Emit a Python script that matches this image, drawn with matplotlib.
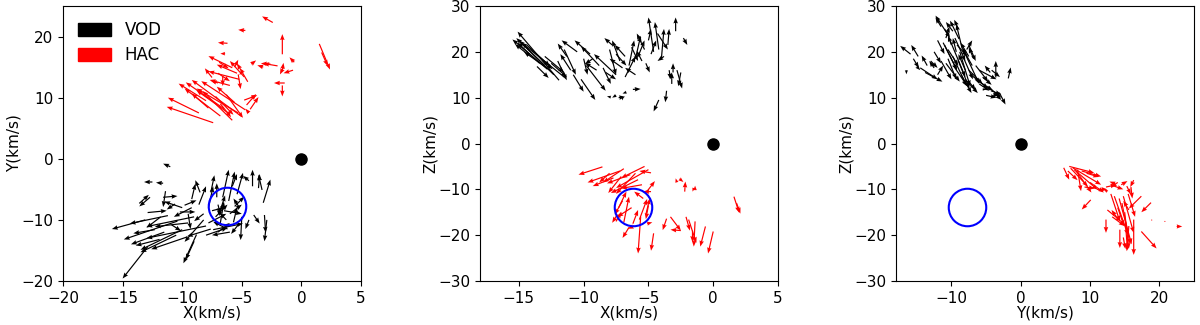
import numpy as np
import matplotlib
matplotlib.use("Agg")
import matplotlib.pyplot as plt
from matplotlib.patches import Patch

# ---------------- data (x, y, u, v) ----------------
# Panel 1: X-Y plane
xy_hac = [
    [-2.4, 22.3, -0.9, 1.0], [-4.7, 21.0, -0.6, 0.1], [-1.6, 17.1, 0.0, 3.3],
    [1.5, 18.8, 0.9, -4.2], [1.7, 17.4, 0.5, -2.2], [-6.2, 18.9, -0.8, 0.1],
    [-6.4, 17.2, -0.4, 0.0], [-2.6, 15.5, -0.8, 0.1], [-2.0, 15.2, -1.2, 0.4],
    [-1.6, 14.5, 0.1, 1.2], [-1.5, 15.0, -0.3, -1.2], [-0.7, 14.5, -0.8, -0.5],
    [-0.6, 15.8, -0.4, 0.8], [-1.6, 12.0, 0.0, -1.8], [-1.4, 12.4, -0.9, 0.0],
    [-3.2, 15.0, -0.5, 0.3], [-4.2, 15.5, 0.4, 0.6], [-4.9, 14.5, -0.3, -0.8],
    [-5.8, 14.9, -2.0, 1.9], [-5.4, 14.0, -1.7, 1.4], [-4.5, 12.6, -0.9, 3.0],
    [-4.8, 13.4, -1.2, 2.6], [-5.2, 13.0, -2.6, 1.3], [-6.0, 12.0, -1.7, 0.9],
    [-6.6, 13.5, 0.0, -1.6], [-7.0, 14.0, 1.0, -1.3], [-6.9, 15.8, 0.8, -1.0],
    [-7.5, 13.3, -0.6, 1.5], [-7.0, 12.4, -0.6, 0.4], [-5.6, 15.0, 0.3, 1.2],
    [-5.3, 13.8, 0.2, -2.4], [-5.0, 6.9, -4.2, 6.0], [-7.4, 5.9, -3.9, 2.6],
    [-8.6, 7.5, -2.6, 2.5], [-4.7, 8.0, -3.7, 4.7], [-5.3, 7.5, -3.5, 4.0],
    [-6.0, 7.3, -2.8, 3.9], [-6.5, 8.2, -3.2, 4.3], [-7.8, 8.3, -1.4, 2.4],
    [-8.0, 9.5, -2.3, 2.8], [-6.8, 9.0, 0.9, -2.2], [-7.2, 10.2, 1.5, -3.0],
    [-5.6, 9.2, -1.5, 2.6], [-4.6, 8.8, 0.8, 1.8], [-4.8, 9.6, 1.1, 0.8],
    [-4.3, 8.1, 0.7, 2.0], [-4.4, 7.5, -0.3, 0.7], [-6.3, 10.5, 1.4, -3.8],
    [-6.8, 7.0, -3.0, 4.5], [-5.8, 6.3, -2.5, 4.8],
]
xy_vod = [
    [-11.0, -1.3, -0.6, 0.5], [-12.5, -3.8, -0.7, 0.0], [-11.6, -4.0, -0.6, 0.1],
    [-12.9, -14.4, -2.1, -5.2], [-13.1, -10.0, -2.8, -1.5], [-11.2, -9.3, -3.2, -1.3],
    [-10.4, -10.2, -4.5, -3.0], [-11.5, -12.0, -2.8, -2.0], [-11.9, -13.2, -2.0, -1.0],
    [-10.0, -11.6, -3.5, -3.3], [-9.6, -12.8, -3.0, -2.0], [-12.3, -11.6, -1.8, -0.6],
    [-13.6, -7.3, 0.8, 1.4], [-12.9, -8.8, 1.6, 0.3], [-12.7, -6.3, -0.9, -1.5],
    [-11.6, -6.3, 1.2, 0.2], [-11.4, -5.3, -0.2, -2.6], [-10.6, -7.4, -0.7, -0.9],
    [-10.2, -8.7, 1.3, 0.0], [-10.9, -10.8, 0.8, -1.0], [-8.8, -12.4, -1.1, -4.7],
    [-8.2, -10.0, -1.6, -3.6], [-9.0, -13.5, -0.7, -3.0], [-9.5, -10.5, -2.8, -0.6],
    [-9.5, -9.0, 0.2, -2.5], [-9.2, -6.6, 0.3, 2.5], [-9.8, -7.6, 1.0, 0.8],
    [-8.6, -7.5, 0.6, 3.0], [-8.2, -9.0, -0.8, -1.2], [-7.8, -8.0, 0.4, 3.5],
    [-7.6, -11.5, -2.0, -1.2], [-6.6, -6.3, 0.5, 4.5], [-6.1, -6.9, 0.5, 4.8],
    [-7.1, -6.3, 0.0, 2.3], [-4.1, -4.5, 0.0, 2.7], [-3.3, -5.1, -0.3, 2.5],
    [-3.2, -7.2, 0.6, 3.8], [-4.4, -3.6, -0.5, 0.8], [-5.4, -5.8, 0.5, 3.5],
    [-3.6, -4.8, 0.1, 2.3], [-3.1, -9.2, 0.1, -2.9], [-5.0, -9.5, -0.1, -3.8],
    [-4.4, -10.0, -0.3, -1.5], [-4.0, -9.2, 0.5, -1.4], [-7.5, -8.5, 1.2, 0.6],
    [-7.2, -9.5, 1.0, 2.0], [-6.8, -10.5, 0.3, 3.5], [-6.3, -10.0, -0.8, 1.6],
    [-6.0, -9.0, 1.0, 1.5], [-5.7, -10.4, 0.3, 2.5], [-6.2, -11.5, -1.2, 1.2],
    [-7.8, -10.5, 1.5, 1.5], [-7.4, -11.6, 2.5, 1.0], [-5.2, -8.0, -0.5, 1.5],
    [-5.6, -7.8, 0.8, 1.6], [-7.0, -7.5, 0.2, -1.5],
    [-9.0, -9.5, -4.0, -1.6], [-8.0, -11.0, -5.0, -2.0], [-10.5, -12.5, -3.0, -2.8],
    [-9.2, -8.0, -1.5, -1.5], [-8.5, -5.5, -0.4, 2.0], [-7.6, -5.5, 0.3, 2.8],
    [-6.9, -9.0, 0.5, 3.0], [-6.5, -8.5, 1.5, -0.5], [-5.3, -10.8, -0.6, -1.5],
    [-7.0, -12.0, 1.0, 1.5], [-8.0, -12.5, 1.8, 1.2], [-6.0, -12.0, -1.5, -0.5],
    [-11.8, -9.5, -1.2, -1.8], [-10.0, -8.0, -1.5, 1.0], [-5.8, -4.5, 0.4, 2.0],
    [-2.9, -10.0, -0.2, -3.5],
]
# Panel 2: X-Z plane
xz_vod = [
    [-11.9, 13.8, -3.2, 10.6], [-12.3, 15.0, -2.9, 8.0], [-11.5, 14.5, -3.3, 7.5],
    [-13.0, 17.0, -2.0, 5.5], [-12.6, 16.0, -2.0, 4.0], [-14.2, 19.2, -1.1, 2.5],
    [-13.6, 16.8, 0.9, -2.5], [-14.4, 21.5, 1.8, -4.6], [-13.2, 18.2, 0.8, -2.0],
    [-12.0, 18.0, 0.7, -4.2], [-11.5, 20.5, 0.9, -5.5], [-11.0, 16.0, -0.8, 3.5],
    [-11.3, 19.0, -0.7, 2.8], [-10.8, 15.0, 0.8, -3.7], [-10.2, 14.0, 1.1, -4.5],
    [-10.0, 18.5, 0.3, -3.5], [-9.5, 19.5, -1.2, 3.0], [-8.8, 17.0, -1.4, 4.2],
    [-7.5, 15.0, -1.7, 4.5], [-7.2, 18.0, -0.6, 4.5], [-8.0, 20.5, 0.5, -5.5],
    [-9.3, 18.5, -0.6, -1.2], [-7.8, 21.5, -0.6, 1.5], [-6.8, 14.5, 0.8, 4.5],
    [-6.5, 17.0, 0.4, 5.5], [-6.0, 18.5, 0.4, 5.0], [-5.8, 19.0, 0.5, 3.5],
    [-6.8, 19.0, -0.8, 2.5], [-7.0, 16.5, -1.0, 2.0], [-6.0, 15.0, -0.8, 1.5],
    [-5.5, 18.0, -0.4, 2.2], [-8.3, 15.5, 0.8, -1.5], [-9.0, 16.0, -0.9, 1.6],
    [-4.6, 20.0, -0.4, 7.5], [-4.2, 20.5, -0.3, 6.0], [-4.0, 18.5, 0.2, 6.5],
    [-3.5, 21.5, 0.1, 3.5], [-4.3, 24.0, 0.8, -3.5], [-4.8, 19.5, 0.4, 3.0],
    [-3.8, 19.0, -0.5, -1.0], [-2.9, 24.5, 0.0, 3.0], [-2.3, 23.0, 0.3, -1.5],
    [-5.2, 17.5, 0.3, -2.0], [-3.4, 16.0, 0.1, -2.0], [-3.1, 15.5, 0.0, 2.0],
    [-2.8, 16.0, 0.4, -4.0], [-2.5, 15.5, -0.2, -3.0], [-4.2, 9.5, -0.4, -2.5],
    [-3.6, 11.5, -0.1, -2.5], [-7.5, 10.5, -0.3, -0.5], [-7.3, 10.0, 0.5, 0.2],
    [-7.0, 10.2, 0.0, -0.8], [-6.2, 11.8, 0.6, 0.1], [-6.7, 11.2, -0.3, -0.3],
    [-7.9, 10.1, -0.3, 0.2], [-12.8, 16.2, -2.7, 6.5], [-13.4, 17.5, -1.7, 4.5],
    [-13.0, 19.0, 1.5, -3.5], [-12.5, 17.5, 1.2, -3.0], [-9.8, 17.0, 1.5, -5.5],
    [-8.5, 16.5, 0.6, -3.5], [-5.3, 20.5, -0.6, 3.5], [-6.3, 21.0, 0.5, -3.0],
    [-7.5, 19.5, 0.8, -2.5], [-10.5, 20.0, -1.2, 2.5], [-5.0, 22.5, 0.2, 2.5],
    [-3.2, 13.0, 0.0, 2.5],
]
xz_hac = [
    [-8.55, -5.1, -1.85, -1.7], [-6.9, -5.5, -1.6, -3.0], [-5.0, -5.7, -2.5, -4.0],
    [-4.8, -6.4, -0.9, 0.4], [-7.7, -7.5, -1.6, -1.8], [-7.1, -7.2, -1.0, -3.6],
    [-5.8, -7.9, -2.1, -2.9], [-5.1, -10.4, 0.6, 2.2], [-8.0, -6.5, -0.8, -2.0],
    [-6.4, -6.8, -1.8, -1.9], [-5.5, -9.0, -1.6, -0.8], [-4.8, -10.5, -0.6, 0.0],
    [-6.9, -17.2, 0.4, 5.6], [-7.3, -14.0, 0.6, 3.5], [-5.7, -16.6, 0.6, 4.5],
    [-5.2, -15.5, 0.3, 3.5], [-6.2, -17.5, 0.4, 3.0], [-7.0, -12.5, -0.6, -3.0],
    [-6.3, -14.0, -1.1, -2.0], [-6.1, -18.0, -0.5, -0.6], [-5.0, -13.5, -0.2, -3.0],
    [-7.4, -15.5, -0.4, -1.8], [-5.4, -12.0, -0.7, 1.5], [-7.5, -17.0, 0.4, 2.0],
    [-6.5, -18.3, -0.5, -2.3], [-5.6, -16.0, -0.2, -8.0], [-5.1, -17.5, 0.4, 0.3],
    [-4.6, -19.6, -0.2, -3.8], [-3.6, -16.4, -0.3, -2.5], [-3.3, -16.0, 0.8, -3.0],
    [-2.5, -19.0, -0.8, 0.2], [-2.2, -10.5, 0.05, 2.2], [-1.4, -10.2, 0.0, 1.0],
    [-1.5, -9.7, -0.1, -0.8], [-2.8, -8.5, -0.1, 0.9], [-2.6, -7.7, 0.3, -0.7],
    [1.6, -11.6, 0.4, -3.5], [1.8, -13.0, 0.3, -2.3], [-1.9, -16.6, 0.6, -5.1],
    [-1.4, -17.0, -0.1, -5.5], [-0.6, -18.1, -0.4, -4.4], [0.0, -19.2, -0.4, -4.8],
    [-2.1, -16.0, 0.3, -3.0], [-1.6, -19.0, 0.0, -2.5],
    [-7.2, -6.0, -2.5, -2.5], [-5.3, -5.0, -1.8, -2.5], [-6.0, -6.5, -1.5, -4.5],
]
# Panel 3: Y-Z plane
yz_vod = [
    [-15.9, 19.5, -1.5, 1.8], [-15.5, 18.5, 0.8, -2.0], [-14.8, 19.0, -1.0, 2.5],
    [-14.5, 16.5, 2.5, -2.5], [-13.5, 17.0, -0.8, 2.2], [-13.8, 15.5, 2.5, -2.0],
    [-13.0, 18.0, 1.0, -1.5], [-12.5, 16.5, -0.7, 1.5], [-15.0, 16.8, 0.5, -0.8],
    [-16.5, 16.0, 0.0, -0.9], [-10.4, 23.5, -1.9, 4.4], [-10.8, 23.0, 0.5, 2.5],
    [-9.8, 24.5, -1.0, 2.0], [-8.9, 22.8, -1.3, 4.0], [-8.5, 21.0, -0.8, 5.0],
    [-9.2, 21.5, 1.5, -2.5], [-10.5, 20.5, 1.5, -3.5], [-11.0, 21.5, 1.8, -5.5],
    [-10.5, 18.5, 1.2, -4.5], [-9.8, 19.0, 2.0, -6.5], [-9.0, 18.0, 1.6, -6.0],
    [-8.2, 18.5, 1.3, -4.5], [-7.5, 19.0, -1.2, 3.0], [-7.0, 17.0, -1.5, 4.0],
    [-8.0, 16.0, -1.0, 3.5], [-11.5, 18.0, 1.5, -4.0], [-12.0, 15.0, 0.8, 2.0],
    [-9.5, 16.5, 1.8, -4.0], [-8.6, 15.0, 1.5, -4.0], [-7.5, 16.0, 2.0, -3.0],
    [-6.5, 17.0, 1.8, -3.5], [-6.8, 18.5, -0.7, 2.5], [-7.8, 20.5, 0.8, 2.0],
    [-9.3, 20.0, -0.5, 3.0], [-10.0, 21.5, -0.5, 2.0], [-6.0, 16.0, 2.5, -2.0],
    [-5.5, 14.5, 1.3, -1.7], [-6.0, 13.0, 1.5, -1.5], [-4.4, 15.5, -0.8, 1.5],
    [-3.6, 14.4, 0.0, 3.6], [-4.2, 16.0, 1.2, -1.5], [-1.8, 14.2, 0.35, 2.4],
    [-3.1, 11.1, 0.9, -2.6], [-4.3, 11.5, 1.5, -0.8], [-5.0, 10.5, 1.5, -0.5],
    [-4.0, 10.5, 0.9, 0.3], [-5.5, 11.8, 0.5, 0.0], [-7.5, 13.5, 1.0, -1.8],
    [-8.0, 14.0, 1.8, -3.0], [-11.0, 25.0, 0.8, -2.0], [-12.0, 22.5, 1.0, -3.0],
    [-11.2, 22.0, 2.0, -6.0], [-10.2, 22.5, 2.2, -8.0], [-9.5, 23.0, 1.5, -5.0],
    [-8.8, 20.0, 1.5, -7.5], [-8.0, 19.5, 2.0, -6.5], [-7.5, 21.5, 1.0, -3.5],
    [-12.5, 20.0, 1.0, -2.5], [-10.8, 17.5, 2.0, -4.0], [-6.5, 14.0, 2.5, -2.5],
    [-4.8, 12.5, 2.0, -2.5], [-3.8, 11.0, 1.0, -1.5], [-9.0, 25.0, -0.6, 2.0],
    [-11.5, 25.5, -0.8, 2.0], [-7.2, 15.0, 2.5, -3.0],
]
yz_hac = [
    [6.2, -5.3, 0.8, -2.6], [7.0, -5.0, 3.6, -1.4], [7.5, -5.3, 4.1, -3.7],
    [7.7, -5.7, 3.4, -4.4], [8.0, -6.0, 2.2, -4.7], [8.2, -5.7, 0.5, -4.7],
    [6.8, -6.0, 1.4, -2.0], [8.8, -6.0, 2.8, -1.2], [9.5, -6.5, 1.8, -0.8],
    [9.2, -9.5, 1.5, -0.3], [10.0, -8.5, 2.0, -2.2], [12.3, -9.5, 1.5, 0.5],
    [13.3, -9.2, 1.5, -0.8], [14.0, -8.5, -1.0, -1.0], [14.5, -9.0, 0.9, 0.8],
    [15.3, -9.3, 0.6, -1.8], [15.9, -9.5, 0.2, -2.5], [16.3, -8.0, -0.5, -1.5],
    [13.6, -8.8, -0.8, 0.5], [10.1, -12.3, -1.3, -2.1], [12.3, -16.6, 0.0, -2.9],
    [13.0, -11.0, 1.3, -6.0], [13.5, -11.5, 2.0, -8.5], [14.2, -12.0, 1.8, -10.0],
    [14.8, -11.5, 1.5, -8.0], [15.5, -11.0, 1.0, -5.0], [14.0, -14.0, 0.9, -4.0],
    [16.3, -16.6, 0.0, -7.7], [15.1, -17.3, 0.3, -5.9], [14.3, -18.8, 0.0, -4.0],
    [15.6, -18.0, -0.3, -5.5], [14.8, -20.5, 0.3, -2.5], [17.4, -11.5, -1.8, -2.7],
    [18.8, -12.9, -1.4, -2.1], [17.4, -19.2, 2.2, -3.7], [13.2, -16.0, 1.8, -2.0],
    [12.5, -14.5, 2.0, -2.5], [15.6, -14.5, -0.8, 2.0], [13.8, -16.0, -0.7, 1.5],
    [18.9, -16.7, 0.15, 0.0], [20.8, -17.0, 0.15, 0.0], [22.5, -18.1, 0.8, 0.0],
    [11.0, -10.0, 1.5, 0.0], [12.5, -10.5, -0.5, 0.5],
    [7.2, -5.4, 2.5, -4.0], [14.6, -13.0, 1.2, -9.0], [15.0, -15.0, 0.6, -8.0],
]
# reference point (blue circle) and Sun (black dot)
ref_uvw = (-6.2, -7.8, -13.8)
sun = (0.0, 0.0)

# ---------------- figure ----------------
fig = plt.figure(figsize=(12, 3.25), dpi=100)
fs = 11
lefts = [63 / 1200, 480 / 1200, 896 / 1200]
bottom = 44 / 325
height = 275 / 325
width = 298 / 1200

panels = [
    (xy_vod, xy_hac, (ref_uvw[0], ref_uvw[1]), "X(km/s)", "Y(km/s)", (-20, 5), (-20, 25),
     [-20, -15, -10, -5, 0, 5], [-20, -10, 0, 10, 20]),
    (xz_vod, xz_hac, (ref_uvw[0], ref_uvw[2]), "X(km/s)", "Z(km/s)", (-18, 5), (-30, 30),
     [-15, -10, -5, 0, 5], [-30, -20, -10, 0, 10, 20, 30]),
    (yz_vod, yz_hac, (ref_uvw[1], ref_uvw[2]), "Y(km/s)", "Z(km/s)", (-18, 25), (-30, 30),
     [-10, 0, 10, 20], [-30, -20, -10, 0, 10, 20, 30]),
]

qkw = dict(angles="xy", scale_units="xy", scale=1, width=0.004,
           headwidth=3.8, headlength=5, headaxislength=4.5)

for i, (vod, hac, ref, xl, yl, xlim, ylim, xt, yt) in enumerate(panels):
    ax = fig.add_axes([lefts[i], bottom, width, height])
    v = np.array(vod)
    h = np.array(hac)
    ax.quiver(v[:, 0], v[:, 1], v[:, 2], v[:, 3], color="black", **qkw)
    ax.quiver(h[:, 0], h[:, 1], h[:, 2], h[:, 3], color="red", **qkw)
    ax.plot(sun[0], sun[1], "o", color="black", ms=8)
    ax.plot(ref[0], ref[1], "o", mfc="none", mec="blue", mew=1.5, ms=27)
    ax.set_xlim(*xlim)
    ax.set_ylim(*ylim)
    ax.set_xticks(xt)
    ax.set_yticks(yt)
    ax.tick_params(labelsize=fs)
    ax.set_xlabel(xl, fontsize=fs, labelpad=0)
    ax.set_ylabel(yl, fontsize=fs, labelpad=0)
    if i == 0:
        handles = [Patch(color="black", label="VOD"), Patch(color="red", label="HAC")]
        ax.legend(handles=handles, loc="upper left", frameon=False, fontsize=12,
                  handlelength=2.0, handleheight=0.8, borderaxespad=0.5,
                  labelspacing=0.45)

fig.savefig("out.png", dpi=100)
